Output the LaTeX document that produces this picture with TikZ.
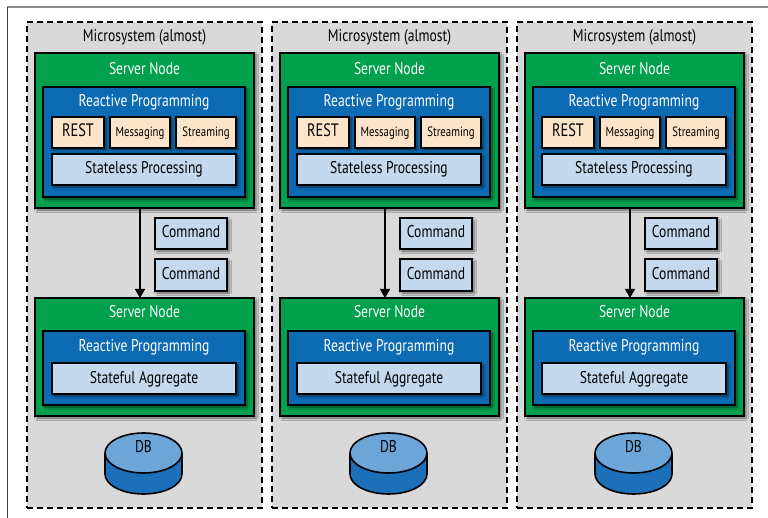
\documentclass[tikz,border=0pt]{standalone}
\usepackage{fontspec}
\setmainfont{PT Sans}[FakeStretch=0.8]
\usepackage{tikz}
\usetikzlibrary{shadows.blur}
\usetikzlibrary{arrows.meta, positioning}

\definecolor{msgray}{HTML}{D9D9D9}
\definecolor{nodegreen}{HTML}{00A04C}
\definecolor{rpblue}{HTML}{0D6BB4}
\definecolor{protopeach}{HTML}{FCE4CA}
\definecolor{paleblue}{HTML}{C4D9EE}
\definecolor{dbtop}{HTML}{6CA6D9}
\definecolor{dbbody}{HTML}{1C6FB9}

\begin{document}
\begin{tikzpicture}[x=1pt, y=-1pt,
    every node/.style={inner sep=0pt, outer sep=0pt, font=\fontsize{17}{19}\selectfont,
                       text height=1.8ex, text depth=0pt},
    shade/.style={blur shadow={shadow xshift=2pt, shadow yshift=-2pt,
                  shadow blur radius=2.5pt, shadow opacity=55}},
    micro/.style={draw, fill=msgray, line width=1.6pt, dash pattern=on 6pt off 4pt},
    server/.style={draw, fill=nodegreen, line width=1.8pt, shade},
    reactive/.style={draw, fill=rpblue, line width=1.8pt, shade},
    proto/.style={draw, fill=protopeach, line width=1.8pt, shade},
    inner/.style={draw, fill=paleblue, line width=1.8pt, shade},
    title/.style={text=white},
    small/.style={font=\fontsize{13.5}{15}\selectfont}]
  \useasboundingbox (0,0) rectangle (768,518);
  \draw[black!45, line width=1.5pt] (7,7) -- (768,7);
  \draw[black!75, line width=0.8pt] (7,7) -- (7,518);

  \foreach \c [count=\i] in {0,245,490} {
  \begin{scope}[xshift=\c]
    \node (ms\i) [micro, minimum width=235pt, minimum height=486pt] at (144.5,265) {};
    \node (mst\i) at (144.5,37.5) {Microsystem (almost)};
    % upper server
    \node (snA\i) [server, minimum width=219pt, minimum height=155pt] at (144.5,130.5) {};
    \node (snAt\i) [title] at (144.5,70) {Server Node};
    \node (rpA\i) [reactive, minimum width=202pt, minimum height=110pt] at (144,142) {};
    \node (rpAt\i) [title] at (144,102) {Reactive Programming};
    \node (rest\i) [proto, font=\fontsize{18}{20}\selectfont, minimum width=52pt, minimum height=31pt] at (78,132.5) {REST};
    \node (msg\i) [proto, small, minimum width=60pt, minimum height=31pt] at (140,132.5) {Messaging};
    \node (str\i) [proto, small, minimum width=60pt, minimum height=31pt] at (206,132.5) {Streaming};
    \node (stl\i) [inner, minimum width=184pt, minimum height=31pt] at (144,169.5) {Stateless Processing};
    % commands
    \node (cmdA\i) [inner, minimum width=72pt, minimum height=31pt] at (191,233.5) {Command};
    \node (cmdB\i) [inner, minimum width=72pt, minimum height=32pt] at (191,275) {Command};
    % lower server
    \node (snB\i) [server, minimum width=219pt, minimum height=118pt] at (144.5,357) {};
    \node (snBt\i) [title] at (144.5,313) {Server Node};
    \node (rpB\i) [reactive, minimum width=202pt, minimum height=74pt] at (144,368) {};
    \node (rpBt\i) [title] at (144,347) {Reactive Programming};
    \node (agg\i) [inner, minimum width=184pt, minimum height=31pt] at (144,378.5) {Stateful Aggregate};
    \draw[line width=1.4pt, -{Triangle[length=9pt, width=10pt]}]
      ([xshift=-4.5pt]snA\i.south) -- ([xshift=-4.5pt]snB\i.north);
    % database
    \draw[line width=1.6pt, fill=dbbody] (143.5,474) ellipse [x radius=38.5pt, y radius=20pt];
    \fill[dbbody] (105,453) rectangle (182,474);
    \draw[line width=1.6pt] (105,453) -- (105,474) (182,453) -- (182,474);
    \draw[line width=1.6pt, fill=dbtop] (143.5,453) ellipse [x radius=38.5pt, y radius=20pt];
    \node (db\i) at (143.5,448) {DB};
  \end{scope}
  }
\end{tikzpicture}
\end{document}
